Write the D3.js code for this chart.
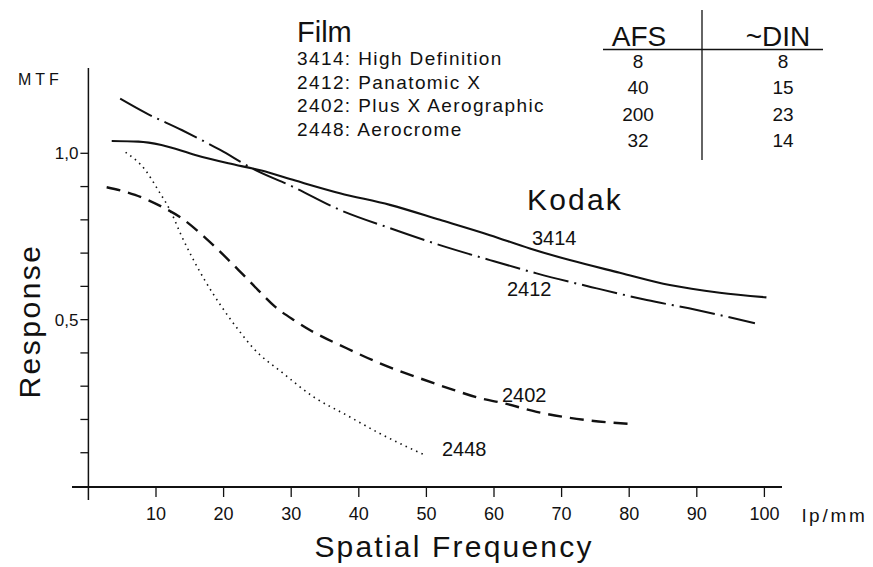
<!DOCTYPE html>
<html><head><meta charset="utf-8">
<script src="https://cdn.jsdelivr.net/npm/d3@7"></script>
<style>
html,body{margin:0;padding:0;background:#fff;}
text{font-family:"Liberation Sans","DejaVu Sans",sans-serif;fill:#111;}
</style></head>
<body><svg id="c" width="873" height="567"></svg>
<script>
// ---- data ----
const freq3414 = [3.45,7.4,10.8,15.8,20.7,25.6,30.6,37.2,44.6,52,59.4,65.3,71.2,78.6,86,93.4,100.3];
const resp3414 = [1.037,1.035,1.025,0.995,0.97,0.948,0.918,0.88,0.845,0.8,0.754,0.714,0.679,0.641,0.604,0.581,0.567];

const freq2412 = [4.7,8.4,13.8,19.5,24.2,30.2,37.2,44.6,52,59.4,66.3,75.2,82.6,90,98.6];
const resp2412 = [1.164,1.122,1.07,1.01,0.955,0.9,0.83,0.775,0.724,0.679,0.639,0.594,0.559,0.529,0.489];

const freq2402 = [2.7,6.9,10.8,13.8,17.5,22.7,25.1,27.6,30.6,33,38.2,43.1,49,54,57.9,61.4,66.3,73.7,80.6];
const resp2402 = [0.898,0.875,0.84,0.805,0.742,0.639,0.589,0.539,0.496,0.466,0.414,0.369,0.324,0.289,0.264,0.249,0.223,0.198,0.186];

const freq2448 = [5.5,8.4,10.3,12.3,13.7,15.3,17.2,19.7,22.2,24.4,28.8,33.3,38.2,43.1,47.1,49.8];
const resp2448 = [1.003,0.95,0.89,0.82,0.755,0.689,0.619,0.539,0.469,0.414,0.339,0.268,0.213,0.158,0.118,0.093];

const xTicks = [10,20,30,40,50,60,70,80,90,100];
const yTicks = [0.1,0.2,0.3,0.4,0.5,0.6,0.7,0.8,0.9,1.0];
const yTickLabels = {"0.5":"0,5","1":"1,0"};

const filmCodes = ["3414","2412","2402","2448"];
const filmNames = ["High Definition","Panatomic X","Plus X Aerographic","Aerocrome"];
const afsValues = ["8","40","200","32"];
const dinValues = ["8","15","23","14"];

// ---- chart ----
const svg = d3.select("#c");
const x = d3.scaleLinear().domain([0,100]).range([88.4,764.4]);
const y = d3.scaleLinear().domain([0,1]).range([486,153.3]);

// axes lines
svg.append("line").attr("x1",72).attr("x2",782).attr("y1",y(0)+1).attr("y2",y(0)+1)
  .attr("stroke","#111").attr("stroke-width",2);
svg.append("line").attr("x1",x(0)).attr("x2",x(0)).attr("y1",68).attr("y2",500)
  .attr("stroke","#111").attr("stroke-width",1.5);

// x ticks
const xg = svg.append("g");
xTicks.forEach(t=>{
  xg.append("line").attr("x1",x(t)).attr("x2",x(t)).attr("y1",y(0)+1).attr("y2",y(0)+11)
    .attr("stroke","#111").attr("stroke-width",1.3);
  xg.append("text").attr("x",x(t)).attr("y",520).attr("text-anchor","middle")
    .attr("font-size",18).text(t);
});
// y ticks
yTicks.forEach(t=>{
  svg.append("line").attr("x1",x(0)-8).attr("x2",x(0)).attr("y1",y(t)).attr("y2",y(t))
    .attr("stroke","#111").attr("stroke-width",1.3);
  const lab = yTickLabels[String(t)];
  if(lab){
    svg.append("text").attr("x",x(0)-10).attr("y",y(t)+6).attr("text-anchor","end")
      .attr("font-size",17).text(lab);
  }
});

// axis titles
svg.append("text").attr("x",18).attr("y",85).attr("font-size",16).attr("letter-spacing",4).text("MTF");
svg.append("text").attr("x",802).attr("y",522).attr("font-size",19).attr("letter-spacing",2.8).text("lp/mm");
svg.append("text").attr("x",454).attr("y",557).attr("text-anchor","middle").attr("font-size",30)
  .attr("letter-spacing",2.2).text("Spatial Frequency");
svg.append("text").attr("transform","translate(40,321) rotate(-90)").attr("text-anchor","middle")
  .attr("font-size",30).attr("letter-spacing",2.5).text("Response");

// curves
const line = d3.line().x(d=>x(d[0])).y(d=>y(d[1])).curve(d3.curveMonotoneX);
const series = [
  {f:freq3414, r:resp3414, dash:null, w:2.1},
  {f:freq2412, r:resp2412, dash:"36,6,2,6", w:2},
  {f:freq2402, r:resp2402, dash:"14,8", w:2.4},
  {f:freq2448, r:resp2448, dash:"1.5,4.3", w:1.6}
];
series.forEach(s=>{
  svg.append("path").datum(s.f.map((v,i)=>[v,s.r[i]])).attr("d",line)
    .attr("fill","none").attr("stroke","#111").attr("stroke-width",s.w)
    .attr("stroke-dasharray",s.dash);
});

// curve labels
const curveLabels = [
  {t:"3414", x:532, y:245},
  {t:"2412", x:507, y:296},
  {t:"2402", x:502, y:402},
  {t:"2448", x:442, y:456}
];
curveLabels.forEach(l=>svg.append("text").attr("x",l.x).attr("y",l.y).attr("font-size",20).text(l.t));
svg.append("text").attr("x",527).attr("y",210).attr("font-size",30).attr("letter-spacing",2.2).text("Kodak");

// table
svg.append("text").attr("x",297).attr("y",42).attr("font-size",29).text("Film");
filmCodes.forEach((c,i)=>{
  svg.append("text").attr("x",297).attr("y",65+i*23.6).attr("font-size",19)
    .attr("letter-spacing",1.4).text(c+": "+filmNames[i]);
  svg.append("text").attr("x",638).attr("y",68+i*26.3).attr("text-anchor","middle")
    .attr("font-size",19).text(afsValues[i]);
  svg.append("text").attr("x",783).attr("y",68+i*26.3).attr("text-anchor","middle")
    .attr("font-size",19).text(dinValues[i]);
});
svg.append("text").attr("x",639).attr("y",46).attr("text-anchor","middle").attr("font-size",28).text("AFS");
svg.append("text").attr("x",778).attr("y",46).attr("text-anchor","middle").attr("font-size",28).text("~DIN");
svg.append("line").attr("x1",603).attr("x2",823).attr("y1",49.5).attr("y2",49.5).attr("stroke","#111").attr("stroke-width",1.5);
svg.append("line").attr("x1",702).attr("x2",702).attr("y1",10).attr("y2",160).attr("stroke","#111").attr("stroke-width",1.3);
</script></body></html>
